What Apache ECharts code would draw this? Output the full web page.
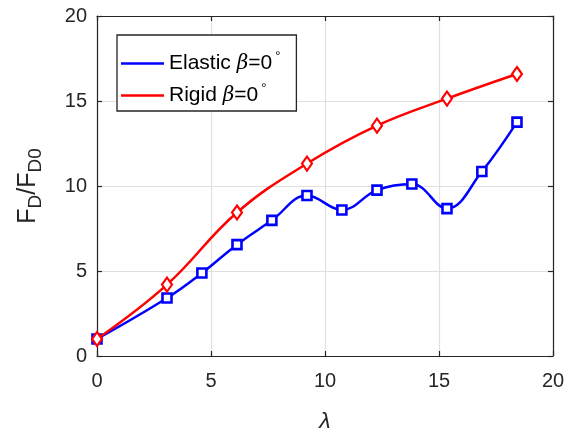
<!DOCTYPE html>
<html><head><meta charset="utf-8">
<script src="https://cdn.jsdelivr.net/npm/echarts@6/dist/echarts.min.js"></script>
<style>html,body{margin:0;padding:0;background:#fff}#c{width:577px;height:439px}</style>
</head><body><div id="c"></div>
<script>
const elasticX = [0, 3.07, 4.6, 6.14, 7.67, 9.21, 10.74, 12.28, 13.81, 15.35, 16.88, 18.42];
const elasticY = [1.0, 3.41, 4.88, 6.55, 7.98, 9.44, 8.59, 9.76, 10.12, 8.67, 10.85, 13.76];
const rigidX = [0, 3.07, 6.14, 9.21, 12.28, 15.35, 18.42];
const rigidY = [1.0, 4.2, 8.44, 11.32, 13.55, 15.14, 16.59];
const xTicks = [0, 5, 10, 15, 20];
const yTicks = [0, 5, 10, 15, 20];

const FONT = 'Liberation Sans';
const chart = echarts.init(document.getElementById('c'));
const axisCommon = {
  min: 0, max: 20, interval: 5,
  axisLine: {show: true, onZero: false, lineStyle: {color: '#262626', width: 1.2}},
  axisTick: {show: true, inside: true, length: 5, lineStyle: {color: '#262626', width: 1.2}},
};
chart.setOption({
  animation: false,
  grid: {left: 97, right: 24, top: 16, bottom: 83, containLabel: false},
  legend: {
    data: [
      {name: 'Elastic', itemStyle: {color: '#0000ff', borderWidth: 0}},
      {name: 'Rigid', itemStyle: {color: '#ff0000', borderWidth: 0}}
    ],
    orient: 'vertical', left: 117, top: 35,
    padding: [15, 16, 5, 4],
    borderColor: '#262626', borderWidth: 1.3, backgroundColor: '#fff',
    itemWidth: 43, itemHeight: 10, itemGap: 8,
    icon: 'path://M0,4 L43,4 L43,6.5 L0,6.5 Z',
    formatter: n => n + ' {it|β}=0{sup|°}',
    textStyle: {fontFamily: FONT, fontSize: 21, color: '#000', lineHeight: 16,
      rich: {it: {fontStyle: 'italic', fontFamily: 'DejaVu Serif', fontSize: 20, color: '#000'},
             sup: {fontSize: 13, color: '#000', padding: [0, 0, 14, 3]}}}
  },
  xAxis: [
    Object.assign({}, axisCommon, {type: 'value', position: 'bottom',
      name: 'λ', nameLocation: 'middle', nameGap: 54,
      nameTextStyle: {fontFamily: FONT, fontSize: 23, fontStyle: 'italic', color: '#262626'},
      axisLabel: {fontFamily: FONT, fontSize: 20, color: '#262626', margin: 15},
      splitLine: {show: true, lineStyle: {color: '#e0e0e0', width: 1.2}}}),
    Object.assign({}, axisCommon, {type: 'value', position: 'top',
      axisLabel: {show: false}, splitLine: {show: false}})
  ],
  yAxis: [
    Object.assign({}, axisCommon, {type: 'value', position: 'left',
      name: 'F{sub|D}/F{sub|D0}', nameLocation: 'middle', nameGap: 52, nameRotate: 90,
      nameTextStyle: {fontFamily: FONT, fontSize: 25, color: '#262626',
        rich: {sub: {fontFamily: FONT, fontSize: 19, color: '#262626', padding: [14, 0, 0, 0]}}},
      axisLabel: {fontFamily: FONT, fontSize: 20, color: '#262626', margin: 10},
      splitLine: {show: true, lineStyle: {color: '#e0e0e0', width: 1.2}}}),
    Object.assign({}, axisCommon, {type: 'value', position: 'right',
      axisLabel: {show: false}, splitLine: {show: false}})
  ],
  series: [
    {name: 'Elastic', type: 'line', smooth: 0.4,
     data: elasticX.map((x, i) => [x, elasticY[i]]),
     symbol: 'rect', symbolSize: 9, showAllSymbol: true,
     lineStyle: {color: '#0000ff', width: 2.5},
     itemStyle: {color: '#ffffff', borderColor: '#0000ff', borderWidth: 2.6}, z: 3},
    {name: 'Rigid', type: 'line', smooth: 0.4,
     data: rigidX.map((x, i) => [x, rigidY[i]]),
     symbol: 'diamond', symbolSize: [10, 14], showAllSymbol: true,
     lineStyle: {color: '#ff0000', width: 2.5},
     itemStyle: {color: '#ffffff', borderColor: '#ff0000', borderWidth: 2.2}, z: 4}
  ],
  color: ['#0000ff', '#ff0000']
});
</script></body></html>
